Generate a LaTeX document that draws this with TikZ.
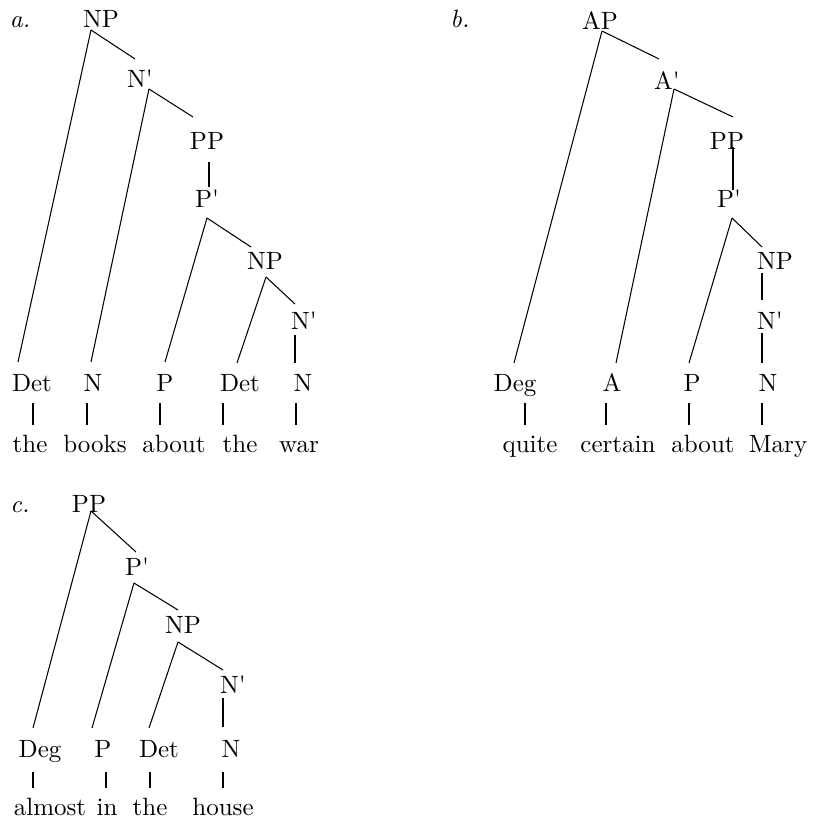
\documentclass[tikz,border=0pt]{standalone}
\usetikzlibrary{calc}
\tikzset{
  cat/.style={anchor=base, inner sep=0pt},
  wrd/.style={anchor=base, inner sep=0pt},
  lbl/.style={anchor=base, inner sep=0pt, font=\itshape},
  br/.style={line width=0.42pt},
}
\newcommand{\pr}{\textquotesingle}

\begin{document}
\begin{tikzpicture}[x=0.4pt, y=-0.4pt]
\useasboundingbox (0,0) rectangle (812,824);
% a. the books about the war
\node[lbl] (taga) at (20,28) {a.};
\node[cat] (npa) at (101,28) {NP}; \node[cat] (nbara) at (140,88) {N\pr};
\node[cat] (ppa) at (207,150) {PP}; \node[cat] (pbara) at (207,208) {P\pr};
\node[cat] (np2a) at (265,270) {NP}; \node[cat] (nbar2a) at (304,330) {N\pr};
\foreach \n/\x/\t in {deta/32/Det, na/93/N, pa/165/P, det2a/240/Det, n2a/303/N}
  \node[cat] (\n) at (\x,392) {\t};
\foreach \n/\x/\t in {wa1/30/the, wa2/95/books, wa3/174/about, wa4/240/the, wa5/299/war}
  \node[wrd] (\n) at (\x,452) {\t};
\draw[br] ($(npa.base)+(-10,2)$) -- ($(deta.base)+(-14,-30)$);
\draw[br] ($(npa.base)+(-10,2)$) -- ($(nbara.base)+(-5,-29)$);
\draw[br] ($(nbara.base)+(9,1)$) -- ($(na.base)+(-2,-30)$);
\draw[br] ($(nbara.base)+(9,1)$) -- ($(ppa.base)+(-14,-33)$);
\draw[br] ($(ppa.base)+(2,12)$) -- ($(pbara.base)+(2,-21)$);
\draw[br] ($(pbara.base)+(0,10)$) -- ($(pa.base)+(0,-30)$);
\draw[br] ($(pbara.base)+(0,10)$) -- ($(np2a.base)+(-14,-23)$);
\draw[br] ($(np2a.base)+(1,7)$) -- ($(det2a.base)+(-3,-29)$);
\draw[br] ($(np2a.base)+(1,7)$) -- ($(nbar2a.base)+(-9,-26)$);
\draw[br] ($(nbar2a.base)+(-9,5)$) -- ($(n2a.base)+(-8,-29)$);
\foreach \n/\w/\d/\e in {deta/wa1/1/3, na/wa2/-6/-8, pa/wa3/-5/-14, det2a/wa4/-17/-17, n2a/wa5/-7/-3}
  \draw[br] ($(\n.base)+(\d,11)$) -- ($(\w.base)+(\e,-27)$);

% b. quite certain about Mary
\node[lbl] (tagb) at (460,28) {b.};
\node[cat] (apb) at (600,30) {AP}; \node[cat] (abarb) at (667,90) {A\pr};
\node[cat] (ppb) at (727,150) {PP}; \node[cat] (pbarb) at (729,208) {P\pr};
\node[cat] (npb) at (775,270) {NP}; \node[cat] (nbarb) at (770,330) {N\pr};
\foreach \n/\x/\t in {degb/515/Deg, ab/612/A, pb/692/P, nb/768/N}
  \node[cat] (\n) at (\x,392) {\t};
\foreach \n/\x/\t in {wb1/530/quite, wb2/618/certain, wb3/703/about, wb4/778/Mary}
  \node[wrd] (\n) at (\x,452) {\t};
\draw[br] ($(apb.base)+(2,1)$) -- ($(degb.base)+(-1,-29)$);
\draw[br] ($(apb.base)+(2,1)$) -- ($(abarb.base)+(-8,-31)$);
\draw[br] ($(abarb.base)+(7,-1)$) -- ($(ab.base)+(4,-29)$);
\draw[br] ($(abarb.base)+(7,-1)$) -- ($(ppb.base)+(6,-33)$);
\draw[br] ($(ppb.base)+(6,-3)$) -- ($(pbarb.base)+(4,-18)$);
\draw[br] ($(pbarb.base)+(3,10)$) -- ($(pb.base)+(-3,-29)$);
\draw[br] ($(pbarb.base)+(3,10)$) -- ($(npb.base)+(-13,-23)$);
\draw[br] ($(npb.base)+(-13,3)$) -- ($(nbarb.base)+(-8,-30)$);
\draw[br] ($(nbarb.base)+(-8,3)$) -- ($(nb.base)+(-6,-29)$);
\foreach \n/\w/\d/\e in {degb/wb1/10/-5, ab/wb2/-6/-12, pb/wb3/-3/-14, nb/wb4/-6/-16}
  \draw[br] ($(\n.base)+(\d,11)$) -- ($(\w.base)+(\e,-27)$);

% c. almost in the house
\node[lbl] (tagc) at (20,512) {c.};
\node[cat] (ppc) at (89,512) {PP}; \node[cat] (pbarc) at (137,575) {P\pr};
\node[cat] (npc) at (183,633) {NP}; \node[cat] (nbarc) at (233,693) {N\pr};
\foreach \n/\x/\t in {degc/40/Deg, pc/103/P, detc/159/Det, nc/231/N}
  \node[cat] (\n) at (\x,757) {\t};
\foreach \n/\x/\t in {wc1/50/almost, wc2/107/in, wc3/150/the, wc4/223/house}
  \node[wrd] (\n) at (\x,815) {\t};
\draw[br] ($(ppc.base)+(2,-1)$) -- ($(degc.base)+(-7,-29)$);
\draw[br] ($(ppc.base)+(2,-1)$) -- ($(pbarc.base)+(-1,-23)$);
\draw[br] ($(pbarc.base)+(-3,8)$) -- ($(pc.base)+(-11,-29)$);
\draw[br] ($(pbarc.base)+(-3,8)$) -- ($(npc.base)+(-5,-23)$);
\draw[br] ($(npc.base)+(-5,9)$) -- ($(detc.base)+(-10,-29)$);
\draw[br] ($(npc.base)+(-5,9)$) -- ($(nbarc.base)+(-10,-23)$);
\draw[br] ($(nbarc.base)+(-10,5)$) -- ($(nc.base)+(-8,-30)$);
\foreach \n/\w/\d/\e in {degc/wc1/-7/-17, pc/wc2/3/-1, detc/wc3/-9/0, nc/wc4/-8/0}
  \draw[br] ($(\n.base)+(\d,15)$) -- ($(\w.base)+(\e,-27)$);
\end{tikzpicture}
\end{document}
